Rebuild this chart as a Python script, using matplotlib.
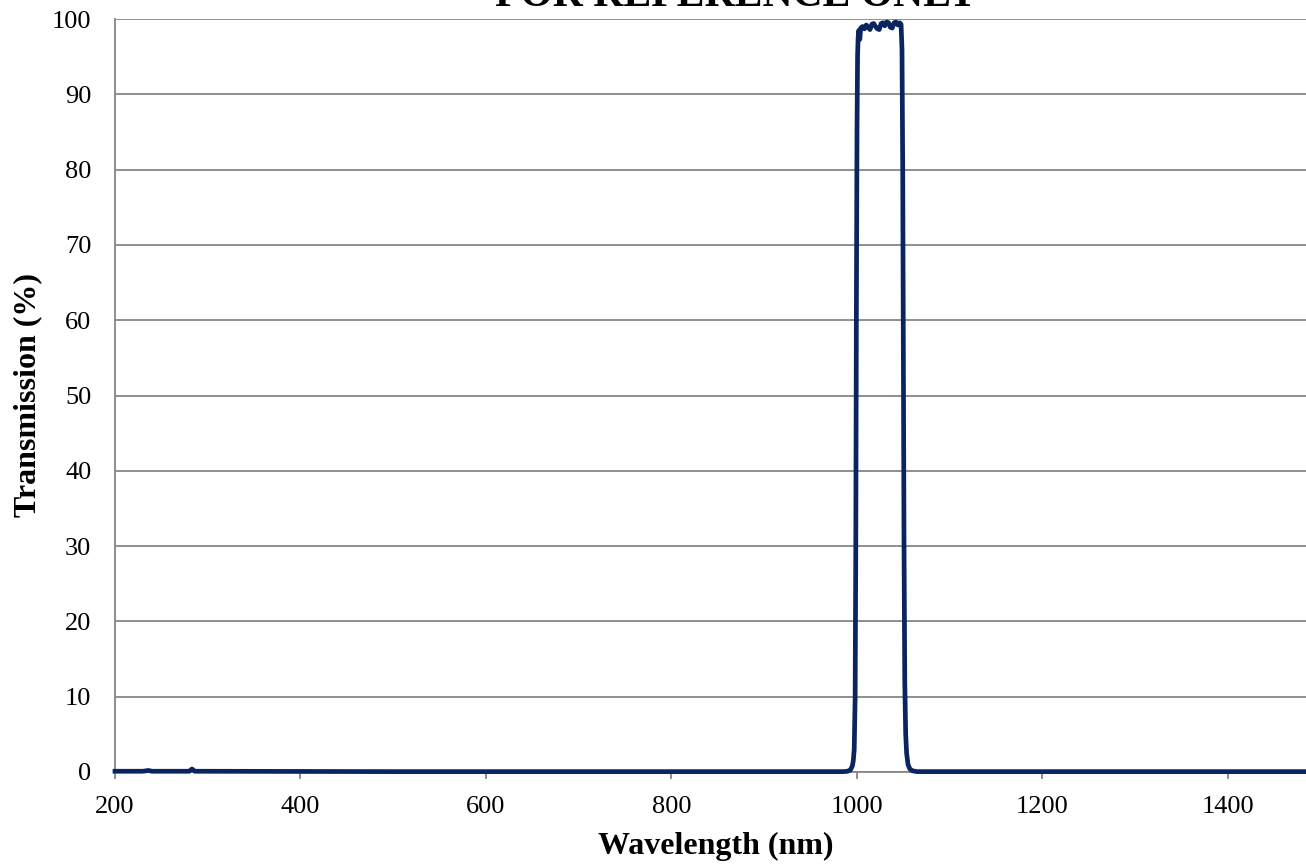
import matplotlib
matplotlib.use("Agg")
import matplotlib.pyplot as plt

# Data
wavelength_nm = [200, 230, 236, 240, 280, 283, 286, 500, 900, 985, 990, 993,
                 995, 996, 997, 998, 998.7, 999.3, 1000, 1000.6, 1001.2, 1002,
                 1003, 1004, 1006, 1008, 1010, 1012, 1014, 1016, 1018, 1020,
                 1022, 1024, 1026, 1028, 1030, 1032, 1034, 1036, 1038, 1040,
                 1042, 1044, 1046, 1047.5, 1048.5, 1049.3, 1050, 1050.7, 1051.5,
                 1052.5, 1053.5, 1055, 1057, 1060, 1065, 1100, 1300, 1500]
transmission_pct = [0.1, 0.1, 0.2, 0.1, 0.1, 0.4, 0.1, 0.05, 0.05, 0.05, 0.1, 0.3,
                    0.8, 1.5, 3, 10, 30, 60, 85, 95, 97.5, 98.5,
                    97.3, 98.8, 99.0, 98.7, 99.2, 98.9, 98.6, 99.3, 99.4, 99.0,
                    98.7, 98.6, 99.4, 99.5, 99.1, 99.6, 99.5, 98.9, 98.8, 99.5,
                    99.6, 99.2, 99.5, 99.3, 96, 80, 55, 30, 12,
                    5, 2.5, 1, 0.4, 0.15, 0.05, 0.05, 0.05, 0.05]

x_ticks = [200, 400, 600, 800, 1000, 1200, 1400]
y_ticks = [0, 10, 20, 30, 40, 50, 60, 70, 80, 90, 100]

plt.rcParams['font.family'] = ['Liberation Serif', 'DejaVu Serif']

W, H = 1306, 865
fig = plt.figure(figsize=(W / 100, H / 100), dpi=100)
left, right, top, bottom = 115, 1320.75, 19, 772
ax = fig.add_axes([left / W, 1 - bottom / H, (right - left) / W, (bottom - top) / H])

grid_col = '#868686'
ax.set_xlim(200, 1500)
ax.set_ylim(0, 100)
ax.set_yticks(y_ticks)
ax.set_xticks(x_ticks)
ax.grid(axis='y', color=grid_col, linewidth=1.3)
ax.set_axisbelow(True)

ax.plot(wavelength_nm, transmission_pct, color='#0a245f', linewidth=3.4,
        solid_joinstyle='round', clip_on=False, zorder=3)

for s in ['top', 'right']:
    ax.spines[s].set_visible(False)
ax.spines['left'].set_color(grid_col)
ax.spines['left'].set_linewidth(1.3)
ax.spines['bottom'].set_color(grid_col)
ax.spines['bottom'].set_linewidth(1.3)

ax.tick_params(axis='y', length=0, pad=17, labelsize=19)
ax.tick_params(axis='x', length=5, width=1.3, color=grid_col, direction='out',
               pad=12, labelsize=19)

fig.text(716 / W, 1 - 846 / H, 'Wavelength (nm)', ha='center', va='center',
         fontsize=23, fontweight='bold')
fig.text(28 / W, 1 - 395 / H, 'Transmission (%)', ha='center', va='center',
         rotation=90, fontsize=23, fontweight='bold')
fig.text(736 / W, 1 - 6 / H, 'FOR REFERENCE ONLY', ha='center', va='baseline',
         fontsize=30, fontweight='bold')

fig.savefig('out.png', dpi=100)
